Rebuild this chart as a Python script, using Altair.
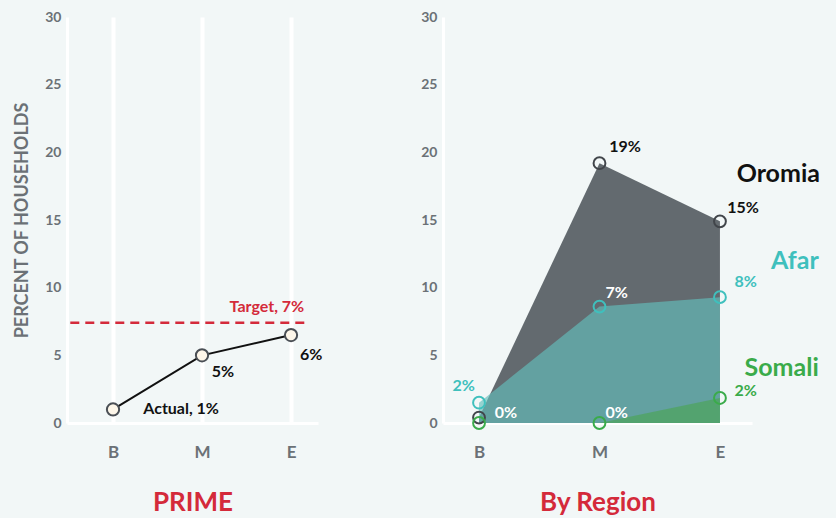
import altair as alt
import pandas as pd
import jinja2

# ---------------- data ----------------
stages = ["B", "M", "E"]
stage_index = [0, 1, 2]

prime_actual = [1.0, 5.0, 6.5]
target_value = 7.4
target_span = [-0.48, 2.21]

regions = ["Oromia", "Afar", "Somali"]
oromia = [0.4, 19.2, 14.9]
afar = [1.5, 8.6, 9.3]
somali = [0.0, 0.0, 1.85]
region_values = [oromia, afar, somali]
region_fill = ["#636a6f", "#64bebb", "#4ba555"]
region_opacity = [1.0, 0.65, 0.65]
region_stroke = ["#41454a", "#3fc0bd", "#3aab4a"]

prime_label_text = ["Actual, 1%", "5%", "6%", "Target, 7%"]
prime_label_x = [0.34, 1.11, 2.10, 1.31]
prime_label_y = [1.03, 3.75, 5.0, 8.6]
prime_label_color = ["#111111", "#111111", "#111111", "#d42a3a"]

region_label_text = ["19%", "15%", "8%", "7%", "2%", "0%", "0%", "2%"]
region_label_x = [1.08, 2.06, 2.12, 1.05, -0.22, 0.13, 1.05, 2.12]
region_label_y = [20.4, 15.9, 10.4, 9.6, 2.7, 0.75, 0.75, 2.35]
region_label_color = ["#111111", "#111111", "#3fc0bd", "#ffffff",
                      "#3fc0bd", "#ffffff", "#ffffff", "#3aab4a"]

region_name_x = [2.83, 2.82, 2.82]
region_name_y = [18.4, 12.0, 4.1]
region_name_color = ["#111111", "#3fc0bd", "#3aab4a"]

FONT = "Lato"
BG = "#f2f7f7"
label_expr = "['B','M','E'][datum.value]"

# ---------------- left panel ----------------
prime_df = pd.DataFrame({"i": stage_index, "stage": stages, "v": prime_actual})
target_df = pd.DataFrame({"x0": [target_span[0]], "x1": [target_span[1]], "y": [target_value]})
prime_lab_df = pd.DataFrame({"x": prime_label_x, "y": prime_label_y,
                             "t": prime_label_text, "c": prime_label_color})

xs_left = alt.Scale(domain=[-0.517, 2.303], nice=False, zero=False)
ys = alt.Scale(domain=[0, 30], nice=False)

x_left_axis = alt.Axis(values=[0, 1, 2], labelExpr=label_expr, grid=True,
                       gridColor="white", gridWidth=4, title="PRIME")
y_left_axis = alt.Axis(values=[0, 5, 10, 15, 20, 25, 30], grid=False,
                       title="PERCENT OF HOUSEHOLDS")

base_left = alt.Chart(prime_df)

line = base_left.mark_line(color="#111111", strokeWidth=2).encode(
    x=alt.X("i:Q", scale=xs_left, axis=x_left_axis),
    y=alt.Y("v:Q", scale=ys, axis=y_left_axis),
)
pts = base_left.mark_point(shape="circle", filled=True, fill="#fdf6e9",
                           stroke="#4a4f55", strokeWidth=2, size=150, opacity=1).encode(
    x="i:Q", y="v:Q")

target = alt.Chart(target_df).mark_rule(color="#d42a3a", strokeWidth=2.5,
                                        strokeDash=[9, 6]).encode(
    x="x0:Q", x2="x1:Q", y="y:Q")

prime_labels = alt.Chart(prime_lab_df).mark_text(
    align="left", baseline="middle", font=FONT, fontWeight="bold", fontSize=16).encode(
    x="x:Q", y="y:Q", text="t:N", color=alt.Color("c:N", scale=None))

left = alt.layer(target, line, pts, prime_labels).properties(width=251, height=406)

# ---------------- right panel ----------------
rows = []
for r, vals in zip(regions, region_values):
    for i, s, v in zip(stage_index, stages, vals):
        rows.append({"region": r, "i": i, "stage": s, "v": v})
reg_df = pd.DataFrame(rows)

xs_right = alt.Scale(domain=[-0.299, 2.266], nice=False, zero=False)
x_right_axis = alt.Axis(values=[0, 1, 2], labelExpr=label_expr, grid=False,
                        title="By Region")
y_right_axis = alt.Axis(values=[0, 5, 10, 15, 20, 25, 30], grid=False, title=None)

layers = []
for k, r in enumerate(regions):
    enc_x = alt.X("i:Q", scale=xs_right, axis=x_right_axis)
    enc_y = alt.Y("v:Q", scale=ys, axis=y_right_axis)
    layers.append(
        alt.Chart(reg_df).transform_filter(alt.datum.region == r)
        .mark_area(color=region_fill[k], opacity=region_opacity[k])
        .encode(x=enc_x, y=enc_y)
    )
for k, r in enumerate(regions):
    layers.append(
        alt.Chart(reg_df).transform_filter(alt.datum.region == r)
        .mark_point(shape="circle", filled=False, stroke=region_stroke[k],
                    strokeWidth=2, size=140, opacity=1)
        .encode(x="i:Q", y="v:Q")
    )

reg_lab_df = pd.DataFrame({"x": region_label_x, "y": region_label_y,
                           "t": region_label_text, "c": region_label_color})
layers.append(
    alt.Chart(reg_lab_df).mark_text(align="left", baseline="middle", font=FONT,
                                    fontWeight="bold", fontSize=16)
    .encode(x="x:Q", y="y:Q", text="t:N", color=alt.Color("c:N", scale=None))
)
name_df = pd.DataFrame({"x": region_name_x, "y": region_name_y,
                        "t": regions, "c": region_name_color})
layers.append(
    alt.Chart(name_df).mark_text(align="right", baseline="middle", font=FONT,
                                 fontWeight="bold", fontSize=25)
    .encode(x="x:Q", y="y:Q", text="t:N", color=alt.Color("c:N", scale=None))
)

right = alt.layer(*layers).properties(width=309, height=406)

chart = (
    alt.hconcat(left, right, spacing=97)
    .properties(background=BG, padding={"left": 5, "top": 2, "right": 5, "bottom": 0})
    .configure_view(stroke=None)
    .configure_axis(
        domainColor="white", domainWidth=3, ticks=False,
        labelFont=FONT, labelFontWeight="bold", labelColor="#6b7176",
        titleFont=FONT, titleFontWeight="bold",
    )
    .configure_axisY(labelFontSize=14, labelPadding=6, titleFontSize=18,
                     titleColor="#6b7176", titlePadding=13)
    .configure_axisX(labelFontSize=17, labelPadding=21, titleFontSize=26,
                     titleColor="#d42a3a", titlePadding=29)
)

PAGE = jinja2.Template("""<!DOCTYPE html>
<html>
<head>
  <meta charset="utf-8">
  <style>
    html, body { background: #f2f7f7; overflow: hidden; }
    body { margin: 8px; }
    #{{ output_div }}.vega-embed { width: 100%; display: flex; }
  </style>
  <script type="text/javascript" src="{{ base_url }}/vega@{{ vega_version }}"></script>
  <script type="text/javascript" src="{{ base_url }}/vega-lite@{{ vegalite_version }}"></script>
  <script type="text/javascript" src="{{ base_url }}/vega-embed@{{ vegaembed_version }}"></script>
</head>
<body>
  <div id="{{ output_div }}"></div>
  <script type="text/javascript">
    vegaEmbed("#{{ output_div }}", {{ spec }}, {{ embed_options }}).catch(console.error);
  </script>
</body>
</html>
""")

chart.save("out.html", embed_options={"renderer": "svg", "actions": False}, template=PAGE)
